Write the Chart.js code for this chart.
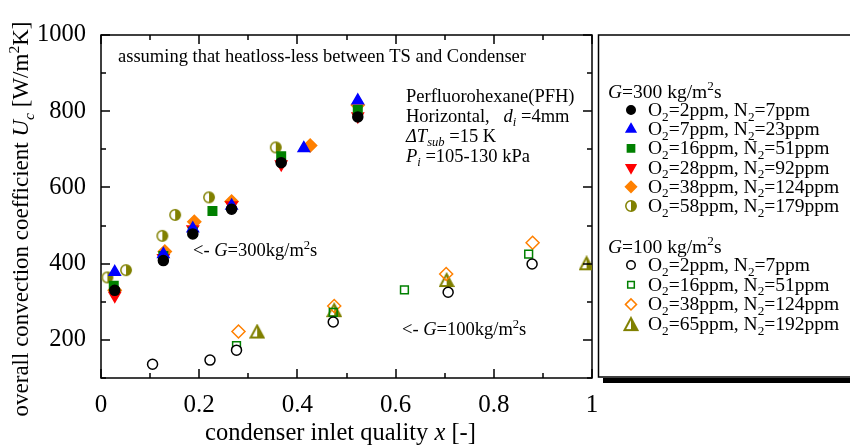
<!DOCTYPE html>
<html>
<head>
<meta charset="utf-8">
<script src="https://cdn.jsdelivr.net/npm/chart.js@4.4.1/dist/chart.umd.min.js"></script>
<style>
  html, body { margin: 0; padding: 0; background: #fff; }
  #wrap { width: 850px; height: 446px; }
</style>
</head>
<body>
<div id="wrap"><canvas id="chart" width="850" height="446"></canvas></div>
<script>
const FONT = "'Liberation Serif', 'Times New Roman', serif";

// axis ticks
const X_TICKS = [0, 0.2, 0.4, 0.6, 0.8, 1];
const Y_TICKS = [200, 400, 600, 800, 1000];
const X_MINOR = [0, 0.1, 0.2, 0.3, 0.4, 0.5, 0.6, 0.7, 0.8, 0.9, 1];
const Y_MINOR = [100, 200, 300, 400, 500, 600, 700, 800, 900, 1000];

// G = 300 kg/m2s  (O2 ppm, N2 ppm)
const G300_GAS = [[2, 7], [7, 23], [16, 51], [28, 92], [38, 124], [58, 179]];
const g300_o2_2_x  = [0.028, 0.127, 0.187, 0.266, 0.367, 0.523];
const g300_o2_2_y  = [330, 408, 478, 543, 665, 785];
const g300_o2_7_x  = [0.028, 0.127, 0.187, 0.266, 0.413, 0.523];
const g300_o2_7_y  = [378, 425, 492, 552, 703, 828];
const g300_o2_16_x = [0.026, 0.127, 0.187, 0.227, 0.367, 0.523];
const g300_o2_16_y = [342, 420, 484, 538, 682, 803];
const g300_o2_28_x = [0.028, 0.127, 0.187, 0.266, 0.367, 0.523];
const g300_o2_28_y = [316, 415, 490, 553, 661, 787];
const g300_o2_38_x = [0.028, 0.130, 0.190, 0.266, 0.426, 0.523];
const g300_o2_38_y = [330, 432, 510, 563, 710, 816];
const g300_o2_58_x = [0.013, 0.051, 0.125, 0.151, 0.220, 0.356];
const g300_o2_58_y = [364, 383, 473, 528, 574, 705];

// G = 100 kg/m2s
const G100_GAS = [[2, 7], [16, 51], [38, 124], [65, 192]];
const g100_o2_2_x  = [0.105, 0.222, 0.276, 0.473, 0.707, 0.878];
const g100_o2_2_y  = [136, 147, 173, 247, 325, 399];
const g100_o2_16_x = [0.276, 0.473, 0.618, 0.871];
const g100_o2_16_y = [185, 272, 331, 425];
const g100_o2_38_x = [0.280, 0.475, 0.703, 0.879];
const g100_o2_38_y = [222, 289, 373, 455];
const g100_o2_65_x = [0.318, 0.475, 0.704, 0.989];
const g100_o2_65_y = [222, 278, 357, 401];

const zip = (xs, ys) => xs.map((x, i) => ({ x, y: ys[i] }));

function halfCircle(color) {
  const c = document.createElement("canvas");
  c.width = c.height = 14;
  const g = c.getContext("2d");
  g.lineWidth = 1.5;
  g.strokeStyle = color;
  g.fillStyle = "#fff";
  g.beginPath(); g.arc(7, 7, 5.2, 0, Math.PI * 2); g.fill(); g.stroke();
  g.fillStyle = color;
  g.beginPath(); g.arc(7, 7, 5.2, -Math.PI / 2, Math.PI / 2); g.closePath(); g.fill();
  return c;
}

function halfTriangle(color) {
  const c = document.createElement("canvas");
  c.width = c.height = 16;
  const g = c.getContext("2d");
  g.lineWidth = 2;
  g.strokeStyle = color;
  g.fillStyle = "#fff";
  g.beginPath(); g.moveTo(8, 2); g.lineTo(1.5, 14); g.lineTo(14.5, 14); g.closePath(); g.fill(); g.stroke();
  g.fillStyle = color;
  g.beginPath(); g.moveTo(8, 2); g.lineTo(8, 14); g.lineTo(14.5, 14); g.closePath(); g.fill();
  return c;
}

const OLIVE = "#808000";

function ds(xs, ys, style, fill, stroke, extra) {
  return Object.assign({
    data: zip(xs, ys),
    pointStyle: style,
    backgroundColor: fill,
    borderColor: stroke,
    pointBorderWidth: 1.5,
    borderWidth: 1.5,
    pointRadius: 5.5,
    showLine: false
  }, extra || {});
}

const datasets = [
  ds(g300_o2_2_x, g300_o2_2_y, "circle", "#000", "#000", { pointRadius: 5 }),
  ds(g300_o2_7_x, g300_o2_7_y, "triangle", "#0000ff", "#0000ff", { pointRadius: 6.5 }),
  ds(g300_o2_16_x, g300_o2_16_y, "rect", "#008000", "#008000", { pointRadius: 6 }),
  ds(g300_o2_28_x, g300_o2_28_y, "triangle", "#ff0000", "#ff0000", { pointRadius: 6.5, pointRotation: 180, rotation: 180 }),
  ds(g300_o2_38_x, g300_o2_38_y, "rectRot", "#ff8000", "#ff8000", { pointRadius: 6.5 }),
  ds(g300_o2_58_x, g300_o2_58_y, halfCircle(OLIVE), OLIVE, OLIVE),
  ds(g100_o2_2_x, g100_o2_2_y, "circle", "#fff", "#000", { pointRadius: 5 }),
  ds(g100_o2_16_x, g100_o2_16_y, "rect", "rgba(0,0,0,0)", "#008000", { pointRadius: 5.5 }),
  ds(g100_o2_38_x, g100_o2_38_y, "rectRot", "rgba(0,0,0,0)", "#ff8000", { pointRadius: 6.5 }),
  ds(g100_o2_65_x, g100_o2_65_y, halfTriangle(OLIVE), OLIVE, OLIVE)
];

// text with italic / subscript / superscript pieces
function drawRich(ctx, parts, x, y, size, align) {
  const fontFor = st => {
    const it = st.includes("i") ? "italic " : "";
    const small = st.includes("sub") || st.includes("sup");
    return `${it}${small ? size * 0.68 : size}px ${FONT}`;
  };
  let w = 0;
  for (const [t, st] of parts) { ctx.font = fontFor(st); w += ctx.measureText(t).width; }
  let cx = align === "center" ? x - w / 2 : x;
  ctx.textBaseline = "alphabetic";
  ctx.textAlign = "left";
  ctx.fillStyle = "#000";
  for (const [t, st] of parts) {
    ctx.font = fontFor(st);
    const dy = st.includes("sub") ? size * 0.24 : st.includes("sup") ? -size * 0.4 : 0;
    ctx.fillText(t, cx, y + dy);
    cx += ctx.measureText(t).width;
  }
}

const gasLabel = ([o, n]) => [["O", ""], ["2", "sub"], [`=${o}ppm, N`, ""], ["2", "sub"], [`=${n}ppm`, ""]];

function drawLegendPoint(ctx, d, x, y) {
  ctx.save();
  ctx.fillStyle = d.backgroundColor;
  ctx.strokeStyle = d.borderColor;
  ctx.lineWidth = d.pointBorderWidth;
  Chart.helpers.drawPoint(ctx, {
    pointStyle: d.pointStyle,
    rotation: d.pointRotation || 0,
    radius: d.pointRadius * 0.85,
    borderWidth: d.pointBorderWidth
  }, x, y);
  ctx.restore();
}

const framePlugin = {
  id: "frame",
  beforeDatasetsDraw(chart) {
    const { ctx, chartArea: a } = chart;
    ctx.save();
    ctx.strokeStyle = "#000";
    ctx.lineWidth = 1.5;
    ctx.strokeRect(a.left, a.top, a.right - a.left, a.bottom - a.top);
    ctx.restore();
  },
  afterDraw(chart) {
    const { ctx, chartArea: a } = chart;
    const xs = chart.scales.x, ys = chart.scales.y;
    ctx.save();
    ctx.strokeStyle = "#000";
    ctx.lineWidth = 1.5;
    X_MINOR.forEach((v, i) => {
      const px = Math.round(xs.getPixelForValue(v));
      const len = i % 2 === 0 ? 9 : 5;
      ctx.beginPath();
      ctx.moveTo(px, a.bottom); ctx.lineTo(px, a.bottom - len);
      ctx.moveTo(px, a.top); ctx.lineTo(px, a.top + len);
      ctx.stroke();
    });
    Y_MINOR.forEach(v => {
      const py = Math.round(ys.getPixelForValue(v));
      const len = v % 200 === 0 ? 9 : 5;
      ctx.beginPath();
      ctx.moveTo(a.left, py); ctx.lineTo(a.left + len, py);
      ctx.moveTo(a.right, py); ctx.lineTo(a.right - len, py);
      ctx.stroke();
    });

    // axis titles
    drawRich(ctx, [["condenser inlet quality ", ""], ["x", "i"], [" [-]", ""]], (a.left + a.right) / 2 - 6, 440, 24.5, "center");
    ctx.save();
    ctx.translate(28, 219);
    ctx.rotate(-Math.PI / 2);
    drawRich(ctx, [["overall convection coefficient ", ""], ["U", "i"], ["c", "isub"], [" [W/m", ""], ["2", "sup"], ["K]", ""]], 0, 0, 23, "center");
    ctx.restore();

    // annotations
    const fs = 18.5;
    drawRich(ctx, [["assuming that heatloss-less between TS and Condenser", ""]], 118, 62, fs, "left");
    drawRich(ctx, [["Perfluorohexane(PFH)", ""]], 406, 102, fs, "left");
    drawRich(ctx, [["Horizontal,   ", ""], ["d", "i"], ["i", "isub"], [" =4mm", ""]], 406, 122, fs, "left");
    drawRich(ctx, [["\u0394T", "i"], ["sub", "isub"], [" =15 K", ""]], 406, 142, fs, "left");
    drawRich(ctx, [["P", "i"], ["i", "isub"], [" =105-130 kPa", ""]], 406, 162, fs, "left");
    drawRich(ctx, [["<- ", ""], ["G", "i"], ["=300kg/m", ""], ["2", "sup"], ["s", ""]], 193, 256, fs, "left");
    drawRich(ctx, [["<- ", ""], ["G", "i"], ["=100kg/m", ""], ["2", "sup"], ["s", ""]], 402, 335, fs, "left");

    // legend box with shadow
    ctx.fillStyle = "#000";
    ctx.fillRect(603, 378, 260, 5);
    ctx.fillStyle = "#fff";
    ctx.fillRect(598, 35, 260, 342);
    ctx.strokeStyle = "#000";
    ctx.lineWidth = 1.5;
    ctx.strokeRect(598.5, 35, 260, 342);

    const ls = 19.5;
    drawRich(ctx, [["G", "i"], ["=300 kg/m", ""], ["2", "sup"], ["s", ""]], 608, 98, ls, "left");
    G300_GAS.forEach((g, i) => {
      const cy = 110 + i * 19.2;
      drawLegendPoint(ctx, chart.data.datasets[i], 631, cy);
      drawRich(ctx, gasLabel(g), 648, cy + 6, ls, "left");
    });
    drawRich(ctx, [["G", "i"], ["=100 kg/m", ""], ["2", "sup"], ["s", ""]], 608, 253, ls, "left");
    G100_GAS.forEach((g, i) => {
      const cy = 265 + i * 19.7;
      drawLegendPoint(ctx, chart.data.datasets[6 + i], 631, cy);
      drawRich(ctx, gasLabel(g), 648, cy + 6, ls, "left");
    });
    ctx.restore();
  }
};

new Chart(document.getElementById("chart"), {
  type: "scatter",
  data: { datasets },
  plugins: [framePlugin],
  options: {
    responsive: false,
    animation: false,
    layout: { padding: { left: 0, top: 35, right: 258, bottom: 0 } },
    plugins: { legend: { display: false }, tooltip: { enabled: false } },
    scales: {
      x: {
        type: "linear",
        min: 0, max: 1,
        grid: { display: false },
        border: { display: false },
        afterBuildTicks: s => { s.ticks = X_TICKS.map(v => ({ value: v })); },
        afterFit: s => { s.height = 68; },
        ticks: {
          padding: 4,
          color: "#000",
          font: { family: FONT, size: 25 },
          callback: v => String(+v.toFixed(1))
        }
      },
      y: {
        type: "linear",
        min: 100, max: 1000,
        grid: { display: false },
        border: { display: false },
        afterBuildTicks: s => { s.ticks = Y_TICKS.map(v => ({ value: v })); },
        afterFit: s => { s.width = 101; },
        ticks: {
          padding: 7,
          color: "#000",
          font: { family: FONT, size: 24.5 },
          callback: v => String(v)
        }
      }
    }
  }
});
</script>
</body>
</html>
